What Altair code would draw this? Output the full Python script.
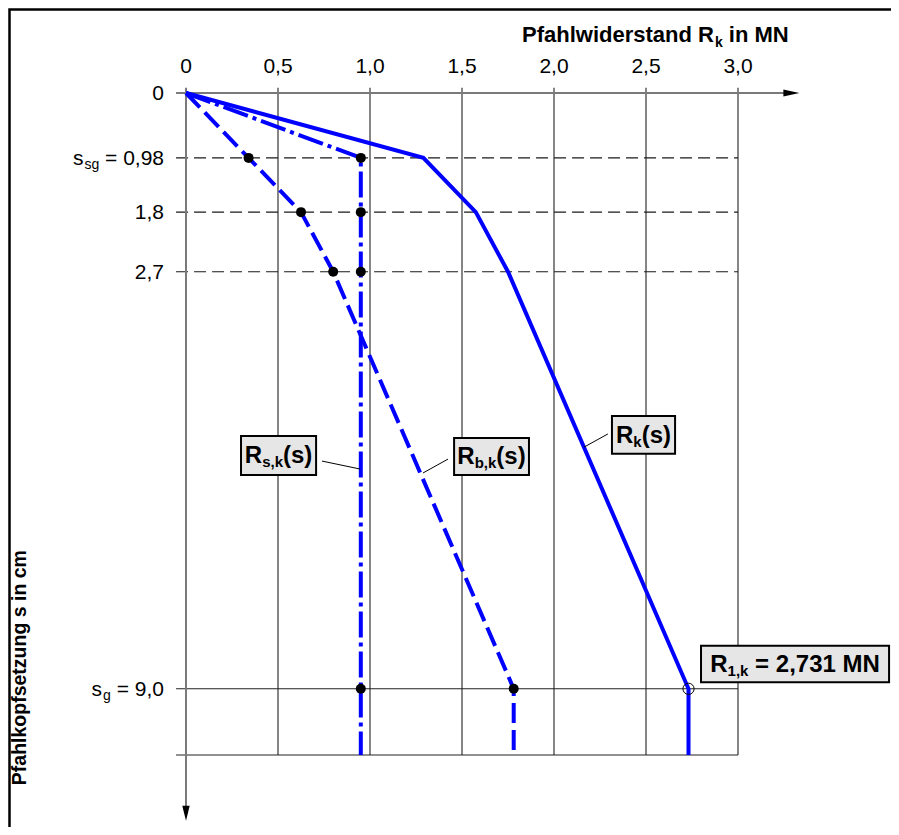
import altair as alt
import pandas as pd

FONT = "Liberation Sans"

# ---------------- data ----------------
settlement = [0.0, 0.98, 1.8, 2.7, 9.0, 10.0]        # s in cm
R_total    = [0.0, 1.29, 1.575, 1.75, 2.731, 2.731]  # R_k(s) in MN
R_shaft    = [0.0, 0.95, 0.95, 0.95, 0.95, 0.95]     # R_s,k(s) in MN
R_base     = [0.0, 0.34, 0.625, 0.80, 1.781, 1.781]  # R_b,k(s) in MN

dot_s      = [0.98, 1.8, 2.7, 9.0]
dot_shaft  = [0.95, 0.95, 0.95, 0.95]
dot_base   = [0.34, 0.625, 0.80, 1.781]
R1k_value  = [2.731]
sg_value   = [9.0]

x_ticks       = [0, 0.5, 1.0, 1.5, 2.0, 2.5, 3.0]
x_tick_labels = ["0", "0,5", "1,0", "1,5", "2,0", "2,5", "3,0"]
y_dashed      = [0.98, 1.8, 2.7]
y_solid       = [9.0, 10.0]

# annotation boxes (data units)
box_names = ["Rs", "Rb", "Rk", "R1k"]
box_x0 = [0.299, 1.457, 2.315, 2.799]
box_x1 = [0.707, 1.864, 2.658, 3.821]
box_y0 = [5.18, 5.21, 4.88, 8.35]
box_y1 = [5.77, 5.77, 5.45, 8.90]
# leader lines
lead_x0 = [0.739, 1.424, 2.293]
lead_y0 = [5.56, 5.53, 5.15]
lead_x1 = [0.946, 1.288, 2.163]
lead_y1 = [5.68, 5.74, 5.35]

# ---------------- helpers ----------------
xs = alt.Scale(domain=[0, 3], nice=False, zero=False)
ys = alt.Scale(domain=[0, 10], nice=False, zero=False, reverse=True)


def X(f):
    return alt.X(f"{f}:Q", scale=xs, axis=None)


def Y(f):
    return alt.Y(f"{f}:Q", scale=ys, axis=None)


W_REG = {c: 0.556 for c in "0123456789"}
W_REG.update({",": 0.278, " ": 0.278, "=": 0.584, "s": 0.5, "g": 0.556})
W_BOLD = {c: 0.556 for c in "0123456789"}
W_BOLD.update({",": 0.278, " ": 0.278, "=": 0.584, "R": 0.722, "s": 0.556, "k": 0.556,
               "b": 0.611, "(": 0.333, ")": 0.333, "M": 0.833, "N": 0.722, "P": 0.667,
               "f": 0.333, "a": 0.556, "h": 0.611, "l": 0.278, "w": 0.778, "i": 0.278,
               "d": 0.611, "e": 0.556, "r": 0.389, "t": 0.333, "n": 0.611, "o": 0.611,
               "p": 0.611, "z": 0.5, "u": 0.611, "g": 0.611, "c": 0.556, "m": 0.889})


def tw(s, size, bold):
    tab = W_BOLD if bold else W_REG
    return sum(tab.get(c, 0.6) for c in s) * size


def rich(x, y, pieces, anchor="left", dx0=0.0):
    """pieces: (text, size, bold, dy, extra_gap_before)"""
    total = sum(tw(t, sz, b) + g for t, sz, b, dy, g in pieces)
    if anchor == "left":
        cur = dx0
    elif anchor == "center":
        cur = dx0 - total / 2
    else:
        cur = dx0 - total
    out = []
    for t, sz, b, dy, g in pieces:
        cur += g
        lead = len(t) - len(t.lstrip(" "))
        cur += lead * 0.278 * sz
        core = t.strip(" ")
        df = pd.DataFrame({"x": [x], "y": [y], "t": [core]})
        out.append(
            alt.Chart(df).mark_text(font=FONT, fontSize=sz, fontWeight="bold" if b else "normal",
                                    align="left", baseline="alphabetic", dx=cur, dy=dy,
                                    color="black")
            .encode(x=X("x"), y=Y("y"), text="t:N")
        )
        cur += tw(core, sz, b)
    return out


layers = []

# ---------------- frame (only top + left edges fall inside the picture) ----------------
frame = pd.DataFrame({"d": [0]})
layers.append(alt.Chart(frame).mark_rect(fill="transparent", stroke="black", strokeWidth=2.5).encode(
    x=alt.value(-176.5), x2=alt.value(760), y=alt.value(-83.5), y2=alt.value(900)))

# ---------------- grid ----------------
vg = pd.DataFrame({"x": x_ticks[1:], "y0": -0.08, "y1": 10.0})
layers.append(alt.Chart(vg).mark_rule(color="#222222", strokeWidth=1.1).encode(
    x=X("x"), y=Y("y0"), y2=alt.Y2("y1")))

hd = pd.DataFrame({"y": y_dashed, "x0": -0.054, "x1": 3.0})
layers.append(alt.Chart(hd).mark_rule(color="#1a1a1a", strokeWidth=1.1, strokeDash=[12, 6]).encode(
    x=X("x0"), x2=alt.X2("x1"), y=Y("y")))

hs = pd.DataFrame({"y": y_solid, "x0": -0.054, "x1": 3.0})
layers.append(alt.Chart(hs).mark_rule(color="#222222", strokeWidth=1.1).encode(
    x=X("x0"), x2=alt.X2("x1"), y=Y("y")))

# ---------------- axes ----------------
ax = pd.DataFrame({"x0": [-0.054], "x1": [3.29], "y": [0.0]})
layers.append(alt.Chart(ax).mark_rule(color="#7a7a7a", strokeWidth=2).encode(
    x=X("x0"), x2=alt.X2("x1"), y=Y("y")))
ay = pd.DataFrame({"x": [0.0], "y0": [-0.08], "y1": [10.85]})
layers.append(alt.Chart(ay).mark_rule(color="#7a7a7a", strokeWidth=2).encode(
    x=X("x"), y=Y("y0"), y2=alt.Y2("y1")))

arr_r = pd.DataFrame({"x": [3.29], "y": [0.0]})
layers.append(alt.Chart(arr_r).mark_point(shape="M-1,-0.45L1,0L-1,0.45Z", filled=True,
                                          color="black", size=256, opacity=1).encode(x=X("x"), y=Y("y")))
arr_d = pd.DataFrame({"x": [0.0], "y": [10.88]})
layers.append(alt.Chart(arr_d).mark_point(shape="M-0.5,-1L0.5,-1L0,1Z", filled=True,
                                          color="black", size=220, opacity=1).encode(x=X("x"), y=Y("y")))

# ---------------- curves ----------------
def curve(vals, dash):
    df = pd.DataFrame({"s": settlement, "R": vals})
    kw = dict(color="#0000ff", strokeWidth=4, strokeCap="butt", strokeJoin="miter")
    if dash:
        kw["strokeDash"] = dash
    return alt.Chart(df).mark_line(**kw).encode(x=X("R"), y=Y("s"), order=alt.Order("s:Q"))


layers.append(curve(R_base, [20, 7]))
layers.append(curve(R_shaft, [26, 5, 4, 5]))
layers.append(curve(R_total, None))

# ---------------- points ----------------
dots = pd.DataFrame({"R": dot_shaft + dot_base, "s": dot_s + dot_s})
layers.append(alt.Chart(dots).mark_circle(color="black", size=100, opacity=1).encode(x=X("R"), y=Y("s")))
oc = pd.DataFrame({"R": R1k_value, "s": sg_value})
layers.append(alt.Chart(oc).mark_point(shape="circle", filled=False, color="black", size=125,
                                       strokeWidth=1, opacity=1).encode(x=X("R"), y=Y("s")))

# ---------------- leader lines + boxes ----------------
ld = pd.DataFrame({"x0": lead_x0, "y0": lead_y0, "x1": lead_x1, "y1": lead_y1})
layers.append(alt.Chart(ld).mark_rule(color="black", strokeWidth=1).encode(
    x=X("x0"), y=Y("y0"), x2=alt.X2("x1"), y2=alt.Y2("y1")))
bx = pd.DataFrame({"n": box_names, "x0": box_x0, "x1": box_x1, "y0": box_y0, "y1": box_y1})
layers.append(alt.Chart(bx).mark_rect(fill="#e6e6e6", stroke="black", strokeWidth=2).encode(
    x=X("x0"), x2=alt.X2("x1"), y=Y("y0"), y2=alt.Y2("y1")))

box_pieces = [
    [("R", 24, True, 8, 0), ("s,k", 15, True, 12, 0), ("(s)", 24, True, 8, 0)],
    [("R", 24, True, 8, 0), ("b,k", 15, True, 12, 0), ("(s)", 24, True, 8, 0)],
    [("R", 24, True, 8, 0), ("k", 15, True, 12, 0), ("(s)", 24, True, 8, 0)],
    [("R", 24, True, 8, 0), ("1,k", 15, True, 12, 0), (" = 2,731 MN", 24, True, 8, 0)],
]
for i, pcs in enumerate(box_pieces):
    cx = (box_x0[i] + box_x1[i]) / 2
    cy = (box_y0[i] + box_y1[i]) / 2
    layers += rich(cx, cy, pcs, anchor="center")

# ---------------- tick labels ----------------
xl = pd.DataFrame({"x": x_ticks, "y": -0.39, "t": x_tick_labels})
layers.append(alt.Chart(xl).mark_text(font=FONT, fontSize=21, baseline="middle", align="center",
                                      color="black").encode(x=X("x"), y=Y("y"), text="t:N"))

y_label_pieces = [
    (0.0, [("0", 21, False, 7, 0)]),
    (0.98, [("s", 21, False, 7, 0), ("sg", 14, False, 11, 1), (" = 0,98", 21, False, 7, 0)]),
    (1.8, [("1,8", 21, False, 7, 0)]),
    (2.7, [("2,7", 21, False, 7, 0)]),
    (9.0, [("s", 21, False, 7, 0), ("g", 14, False, 11, 1), (" = 9,0", 21, False, 7, 0)]),
]
for yv, pcs in y_label_pieces:
    layers += rich(0.0, yv, pcs, anchor="right", dx0=-22)

# ---------------- titles ----------------
layers += rich(1.826, -0.77, [("Pfahlwiderstand R", 22, True, 0, 0), ("k", 14, True, 5, 1),
                               (" in MN", 22, True, 0, 0)], anchor="left")
yt = pd.DataFrame({"x": [-0.9], "y": [8.68], "t": ["Pfahlkopfsetzung s in cm"]})
layers.append(alt.Chart(yt).mark_text(font=FONT, fontSize=19.5, fontWeight="bold", angle=270,
                                      align="center", baseline="middle", color="black")
              .encode(x=X("x"), y=Y("y"), text="t:N"))

chart = alt.layer(*layers).properties(
    width=552, height=662,
    autosize=alt.AutoSizeParams(type="none"),
    padding={"left": 178, "top": 85, "right": 153, "bottom": 72},
).configure_view(stroke=None)

chart.save("out.html", embed_options={"renderer": "svg", "actions": False})
